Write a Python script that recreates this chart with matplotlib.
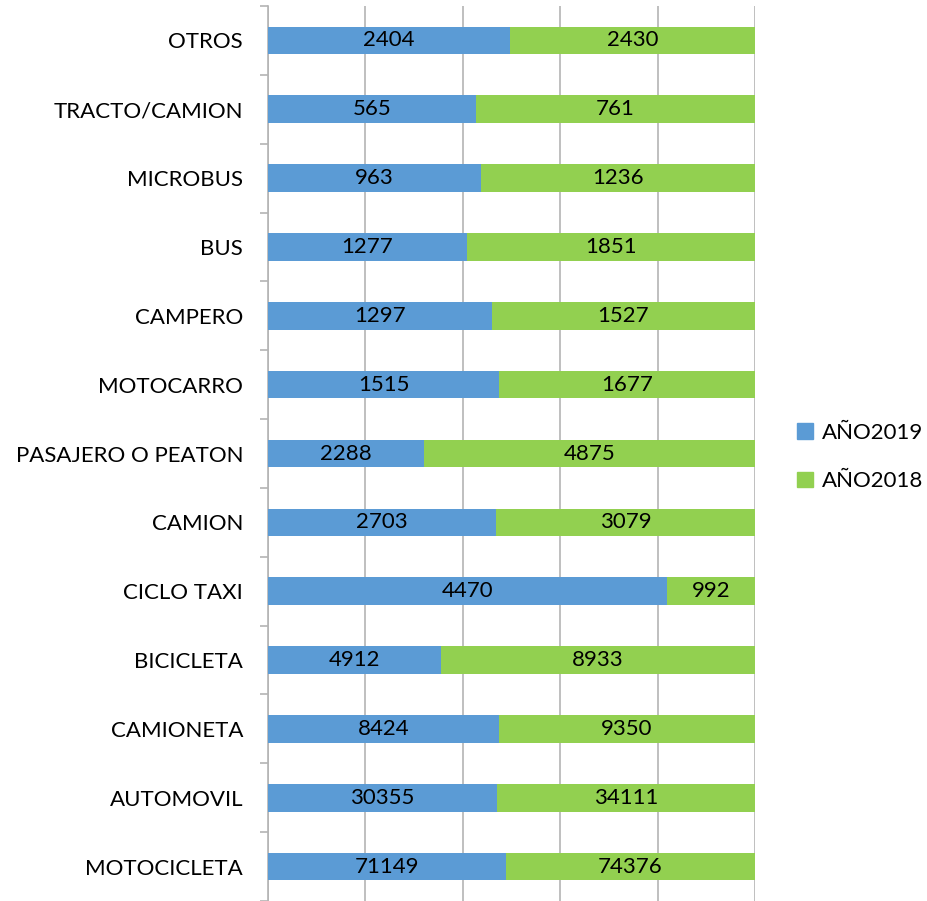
import matplotlib
matplotlib.use("Agg")
import matplotlib.pyplot as plt
from matplotlib.patches import Patch
import numpy as np

categories = ["MOTOCICLETA", "AUTOMOVIL", "CAMIONETA", "BICICLETA", "CICLO TAXI",
              "CAMION", "PASAJERO O PEATON", "MOTOCARRO", "CAMPERO", "BUS",
              "MICROBUS", "TRACTO/CAMION", "OTROS"]
anio2019 = [71149, 30355, 8424, 4912, 4470, 2703, 2288, 1515, 1297, 1277, 963, 565, 2404]
anio2018 = [74376, 34111, 9350, 8933, 992, 3079, 4875, 1677, 1527, 1851, 1236, 761, 2430]

plt.rcParams['font.family'] = ['Lato', 'DejaVu Sans']
blue = "#5B9BD5"
green = "#92D050"
grid = "#B4B4B4"

fig = plt.figure(figsize=(9.27, 9.01), dpi=100)
ax = fig.add_axes([268/927, 0.0, (755-268)/927, 1 - 6/901])

a = np.array(anio2019, float)
b = np.array(anio2018, float)
tot = a + b
pa = a / tot * 100
pb = b / tot * 100
y = np.arange(len(categories))
h = 0.40
ax.barh(y, pa, height=h, color=blue, zorder=3)
ax.barh(y, pb, left=pa, height=h, color=green, zorder=3)
for i in range(len(categories)):
    ax.text(pa[i] / 2, y[i], f"{anio2019[i]}", ha='center', va='center', fontsize=16, zorder=4)
    ax.text(pa[i] + pb[i] / 2, y[i], f"{anio2018[i]}", ha='center', va='center', fontsize=16, zorder=4)

ax.set_xlim(0, 100)
ax.set_ylim(-0.5, len(categories) - 0.5)
ax.set_xticks([0, 20, 40, 60, 80, 100])
ax.set_xticklabels([])
ax.tick_params(axis='x', length=0)
ax.xaxis.grid(True, color=grid, linewidth=1.2, zorder=0)
ax.set_axisbelow(True)
for s in ["top", "right", "bottom"]:
    ax.spines[s].set_visible(False)
ax.spines["left"].set_color(grid)
ax.spines["left"].set_linewidth(1.2)

ax.set_yticks(y)
ax.set_yticklabels(categories, fontsize=16)
ax.tick_params(axis='y', which='major', length=0, pad=18)
ax.set_yticks(np.arange(-0.5, len(categories), 1.0), minor=True)
ax.tick_params(axis='y', which='minor', length=6, color=grid, width=1.2)

handles = [Patch(color=blue, label="AÑO2019"), Patch(color=green, label="AÑO2018")]
fig.legend(handles=handles, loc='center left', bbox_to_anchor=(797/927, 1 - 457/901),
           frameon=False, fontsize=16, handlelength=0.7, handleheight=0.7,
           handletextpad=0.4, labelspacing=1.3, borderaxespad=0, borderpad=0)

fig.savefig("out.png", dpi=100)
